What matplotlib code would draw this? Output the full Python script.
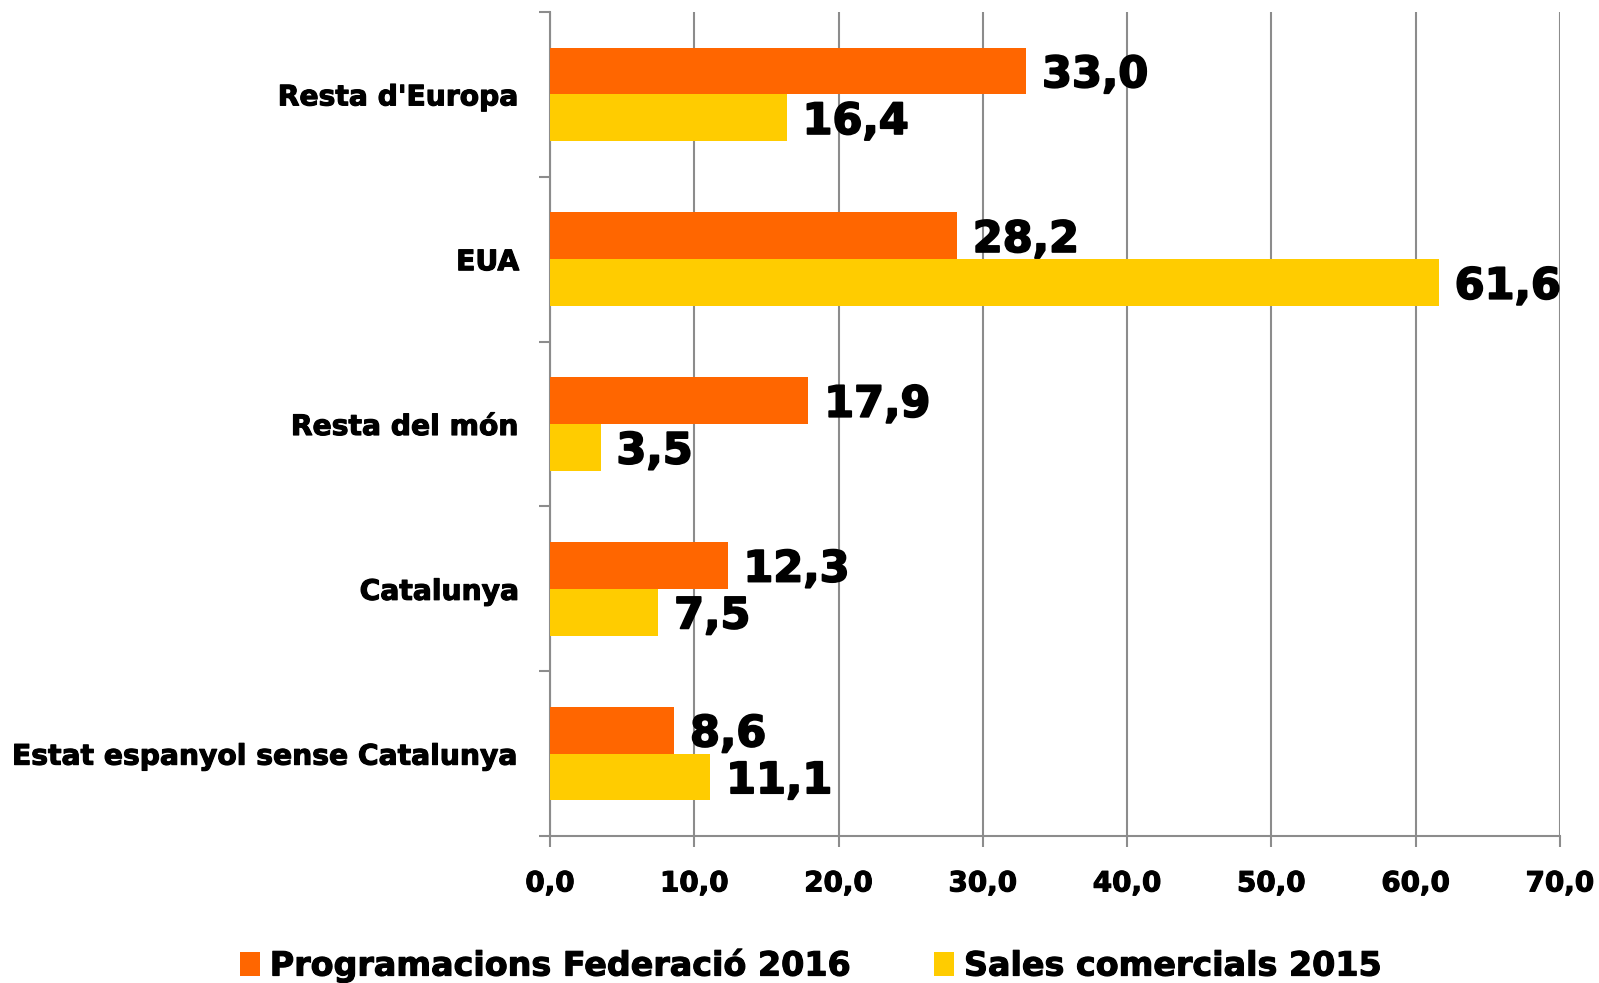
import matplotlib
matplotlib.use("Agg")
import matplotlib.pyplot as plt
import matplotlib.patheffects as pe
from matplotlib.patches import Patch
from matplotlib.ticker import FuncFormatter, FixedLocator

# categories listed bottom to top
categories = ["Estat espanyol sense Catalunya", "Catalunya", "Resta del món",
              "EUA", "Resta d'Europa"]
programacions_2016 = [8.6, 12.3, 17.9, 28.2, 33.0]
sales_2015 = [11.1, 7.5, 3.5, 61.6, 16.4]
series_names = ["Programacions Federació 2016", "Sales comercials 2015"]
x_ticks = [0, 10, 20, 30, 40, 50, 60, 70]

ORANGE = "#FF6600"
YELLOW = "#FFCC00"
GRID = "#8C8C8C"

plt.rcParams["font.family"] = ["DejaVu Sans"]
plt.rcParams["font.weight"] = "bold"

# a thin stroke to get closer to the heavy face of the original
heavy = [pe.withStroke(linewidth=1.3, foreground="black")]
heavy_small = [pe.withStroke(linewidth=0.8, foreground="black")]

fig = plt.figure(figsize=(15.99, 9.83), dpi=100)
ax = fig.add_axes([0.344, 0.1495, 0.6316, 0.8383])

h = 0.284
ypos = list(range(len(categories)))
ax.barh([y + h / 2 for y in ypos], programacions_2016, height=h, color=ORANGE, zorder=3)
ax.barh([y - h / 2 for y in ypos], sales_2015, height=h, color=YELLOW, zorder=3)


def fmt(v):
    return f"{v:.1f}".replace(".", ",")


# labels sit a touch below the bar centre in the original
dy = -0.025
for y, v in zip(ypos, programacions_2016):
    ax.text(v + 1.1, y + h / 2 + dy, fmt(v), va="center", ha="left",
            fontsize=31, fontweight="bold", zorder=4, path_effects=heavy)
for y, v in zip(ypos, sales_2015):
    ax.text(v + 1.1, y - h / 2 + dy, fmt(v), va="center", ha="left",
            fontsize=31, fontweight="bold", zorder=4, path_effects=heavy)

ax.set_xlim(0, 70)
ax.set_ylim(-0.5, len(categories) - 0.5)
ax.set_xticks(x_ticks)
ax.xaxis.set_major_formatter(FuncFormatter(lambda v, p: fmt(v)))
ax.set_yticks(ypos)
ax.set_yticklabels(categories)
ax.yaxis.set_minor_locator(FixedLocator([y - 0.5 for y in range(len(categories) + 1)]))

ax.grid(axis="x", color=GRID, linewidth=1.5, zorder=0)
for s in ["top", "right"]:
    ax.spines[s].set_visible(False)
for s in ["left", "bottom"]:
    ax.spines[s].set_color(GRID)
    ax.spines[s].set_linewidth(1.5)

ax.tick_params(axis="y", which="major", length=0, pad=22, labelsize=20.3)
ax.tick_params(axis="y", which="minor", length=8, width=1.5, color=GRID)
ax.tick_params(axis="x", which="major", length=8, width=1.5, color=GRID,
               pad=16, labelsize=20)
for lbl in ax.get_xticklabels() + ax.get_yticklabels():
    lbl.set_fontweight("bold")
    lbl.set_path_effects(heavy_small)

handles = [Patch(facecolor=ORANGE), Patch(facecolor=YELLOW)]
leg = fig.legend(handles, series_names, loc="center", bbox_to_anchor=(0.507, 0.018),
                 ncol=2, frameon=False, prop={"weight": "bold", "size": 24},
                 handlelength=0.6, handleheight=0.7, handletextpad=0.3,
                 columnspacing=2.5)
for t in leg.get_texts():
    t.set_path_effects(heavy_small)

fig.savefig("out.png", dpi=100)
